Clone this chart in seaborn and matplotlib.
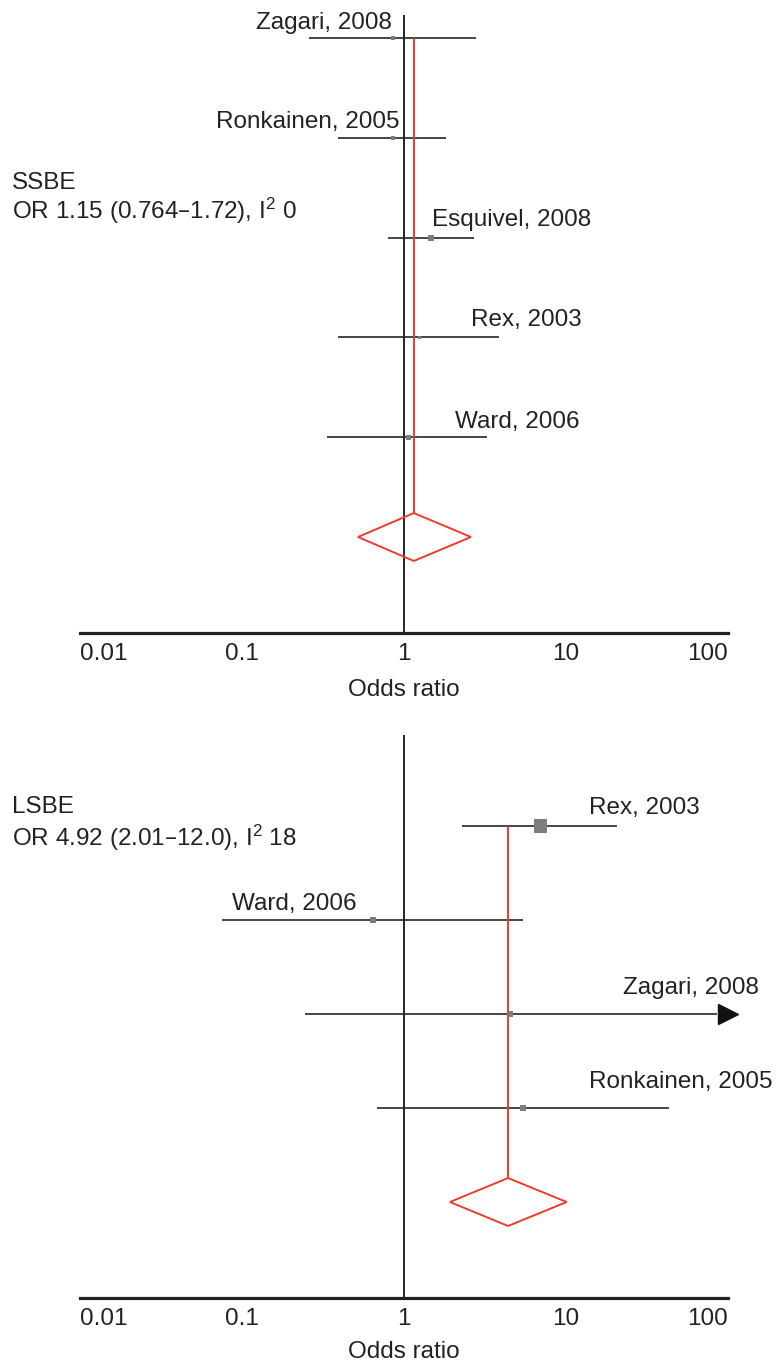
import numpy as np
import pandas as pd
import matplotlib.pyplot as plt
import seaborn as sns
from matplotlib.ticker import NullLocator

# --- Styling ---
sns.set_theme(style="white")
plt.rcParams['font.family'] = ['Liberation Sans', 'DejaVu Sans']
plt.rcParams['mathtext.default'] = 'regular'

FONT = 17.5
LINE_COL = '#262626'
RED = '#ee3b2b'
SQUARE_COL = '#7c7c82'

# --- Data: SSBE panel (odds ratios) ---
ssbe_study = ['Zagari, 2008', 'Ronkainen, 2005', 'Esquivel, 2008', 'Rex, 2003', 'Ward, 2006']
ssbe_or = [0.855, 0.855, 1.47, 1.24, 1.06]
ssbe_lo = [0.259, 0.392, 0.796, 0.392, 0.335]
ssbe_hi = [2.78, 1.82, 2.71, 3.86, 3.25]
ssbe_weight = [16, 16, 36, 9, 25]
ssbe_pool = [1.15, 0.52, 2.59]          # estimate, diamond left, diamond right
ssbe_title = 'SSBE'
ssbe_note = 'OR 1.15 (0.764\u20131.72), I$^{2}$ 0'

# --- Data: LSBE panel ---
lsbe_study = ['Rex, 2003', 'Ward, 2006', 'Zagari, 2008', 'Ronkainen, 2005']
lsbe_or = [6.92, 0.644, 4.57, 5.43]
lsbe_lo = [2.28, 0.0753, 0.245, 0.681]
lsbe_hi = [20.6, 5.43, np.inf, 43.2]    # inf: interval runs off the axis (arrow)
lsbe_weight = [169, 36, 25, 36]
lsbe_pool = [4.39, 1.92, 10.1]
lsbe_title = 'LSBE'
lsbe_note = 'OR 4.92 (2.01\u201312.0), I$^{2}$ 18'

# --- Label placement (layout only) ---
ssbe_label_x = [0.843, 0.944, 1.49, 2.59, 2.07]
ssbe_label_ha = ['right', 'right', 'left', 'left', 'left']
ssbe_label_dy = [9, 10, 12, 11, 9]      # px above the CI line
lsbe_label_x = [13.9, 0.0867, 22.5, 13.9]
lsbe_label_ha = ['left', 'left', 'left', 'left']
lsbe_label_dy = [12, 10, 20, 20]

W, H = 778, 1361


def draw_panel(ax, study, odds, lo, hi, weight, pool, ylim, diamond_h,
               label_x, label_ha, label_dy, labelpad):
    df = pd.DataFrame({'study': study, 'or': odds, 'lo': lo, 'hi': hi,
                       'weight': weight})
    df['row'] = np.arange(len(df))
    n = len(df)

    ax.set_xscale('log')
    ax.set_xlim(0.01, 100)
    ax.set_ylim(*ylim)

    # null line
    ax.axvline(1, color=LINE_COL, lw=1.4, zorder=1)

    # confidence intervals
    for _, r in df.iterrows():
        if np.isinf(r['hi']):
            ax.hlines(r['row'], r['lo'], 86, color=LINE_COL, lw=1.2, zorder=2)
            ax.plot([100], [r['row']], marker='>', ms=15, color='#111111',
                    clip_on=False, zorder=3)
        else:
            ax.hlines(r['row'], r['lo'], r['hi'], color=LINE_COL, lw=1.2, zorder=2)

    # study estimates, square area ~ weight
    sns.scatterplot(data=df, x='or', y='row', marker='s', color=SQUARE_COL,
                    s=df['weight'] * 0.52, edgecolor='none', linewidth=0,
                    legend=False, ax=ax, zorder=4)

    # pooled estimate: vertical line and diamond
    est, d_lo, d_hi = pool
    ax.vlines(est, 0, n - diamond_h, color=RED, lw=1.4, zorder=3)
    ax.fill([d_lo, est, d_hi, est, d_lo], [n, n - diamond_h, n, n + diamond_h, n],
            facecolor='none', edgecolor=RED, lw=1.4, zorder=3)

    for i, r in df.iterrows():
        ax.annotate(r['study'], xy=(label_x[i], r['row']),
                    xytext=(0, label_dy[i] * 0.72), textcoords='offset points',
                    ha=label_ha[i], va='baseline', fontsize=FONT, color='#222222',
                    annotation_clip=False)

    # axis styling
    for side in ['left', 'right', 'top']:
        ax.spines[side].set_visible(False)
    ax.spines['bottom'].set_linewidth(2.3)
    ax.spines['bottom'].set_color('#222222')
    ax.set_yticks([])
    ax.set_ylabel('')
    ax.xaxis.set_minor_locator(NullLocator())
    ax.set_xticks([0.01, 0.1, 1, 10, 100])
    ax.set_xticklabels(['0.01', '0.1', '1', '10', '100'])
    ax.tick_params(axis='x', length=0, pad=7, labelsize=FONT, labelcolor='#222222')
    tl = ax.get_xticklabels()
    tl[0].set_ha('left')
    tl[-1].set_ha('right')
    ax.set_xlabel('Odds ratio', fontsize=FONT, color='#222222', labelpad=labelpad)


fig = plt.figure(figsize=(W / 100, H / 100), dpi=100)
fig.patch.set_facecolor('white')

ax1 = fig.add_axes([80 / W, 1 - 633 / H, 648 / W, (633 - 15) / H])
draw_panel(ax1, ssbe_study, ssbe_or, ssbe_lo, ssbe_hi, ssbe_weight, ssbe_pool,
           ylim=((633 - 38) / 99.8, (15 - 38) / 99.8), diamond_h=0.24,
           label_x=ssbe_label_x, label_ha=ssbe_label_ha, label_dy=ssbe_label_dy,
           labelpad=10)

ax2 = fig.add_axes([80 / W, 1 - 1298 / H, 648 / W, (1298 - 735) / H])
draw_panel(ax2, lsbe_study, lsbe_or, lsbe_lo, lsbe_hi, lsbe_weight, lsbe_pool,
           ylim=((1298 - 826) / 94.0, (735 - 826) / 94.0), diamond_h=0.255,
           label_x=lsbe_label_x, label_ha=lsbe_label_ha, label_dy=lsbe_label_dy,
           labelpad=8)

# subgroup summaries on the left
fig.text(12 / W, 1 - 189 / H, ssbe_title, va='baseline', fontsize=FONT, color='#222222')
fig.text(12 / W, 1 - 219 / H, ssbe_note, va='baseline', fontsize=FONT, color='#222222')
fig.text(12 / W, 1 - 813 / H, lsbe_title, va='baseline', fontsize=FONT, color='#222222')
fig.text(12 / W, 1 - 846 / H, lsbe_note, va='baseline', fontsize=FONT, color='#222222')

fig.savefig('out.png', dpi=100)
